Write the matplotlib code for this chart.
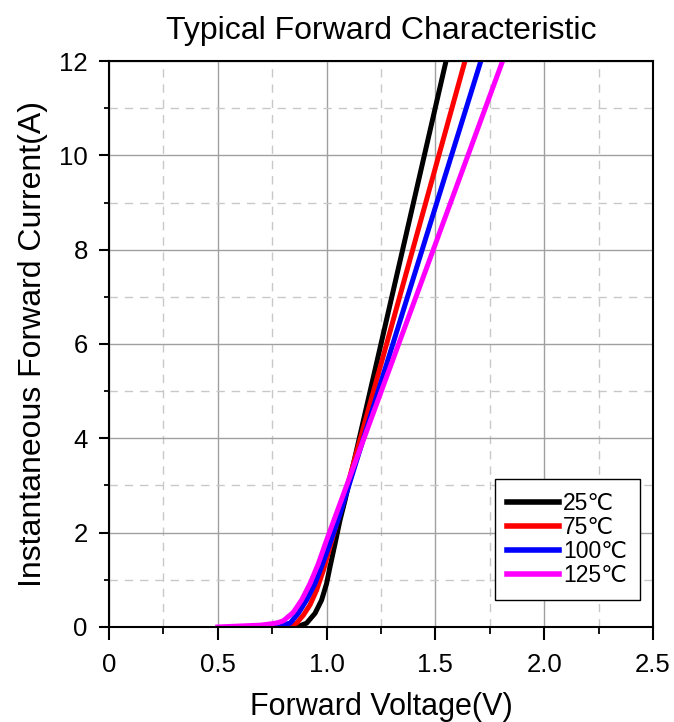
import matplotlib
matplotlib.use('Agg')
import matplotlib.pyplot as plt
from matplotlib.ticker import MultipleLocator

plt.rcParams['font.family'] = ['Liberation Sans', 'DejaVu Sans']

# Datos (tension V, corriente A)
v_25 = [0.75, 0.80, 0.85, 0.88, 0.908, 0.947, 0.977, 1.0, 1.016, 1.039, 1.062, 1.085, 1.549]
i_25 = [0.0, 0.005, 0.01, 0.03, 0.08, 0.29, 0.57, 0.92, 1.28, 1.77, 2.27, 2.69, 12.0]

v_75 = [0.72, 0.78, 0.82, 0.862, 0.893, 0.924, 0.954, 0.985, 1.016, 1.046, 1.077, 1.636]
i_75 = [0.0, 0.01, 0.03, 0.08, 0.25, 0.47, 0.78, 1.20, 1.70, 2.20, 2.69, 12.0]

v_100 = [0.68, 0.74, 0.79, 0.832, 0.870, 0.908, 0.947, 0.985, 1.023, 1.062, 1.709]
i_100 = [0.0, 0.02, 0.04, 0.08, 0.29, 0.57, 0.92, 1.38, 1.87, 2.40, 12.0]

v_125 = [0.5, 0.6, 0.7, 0.75, 0.775, 0.801, 0.847, 0.885, 0.924, 0.962, 1.0, 1.039, 1.809]
i_125 = [0.0, 0.02, 0.04, 0.07, 0.09, 0.13, 0.31, 0.57, 0.92, 1.34, 1.84, 2.33, 12.0]

etiquetas = ['25℃', '75℃', '100℃', '125℃']
colores = ['black', 'red', 'blue', 'magenta']

fig = plt.figure(figsize=(6.74, 7.22), dpi=100)
ax = fig.add_axes([0.1617, 0.1316, 0.8071, 0.7839])

series = [(v_25, i_25), (v_75, i_75), (v_100, i_100), (v_125, i_125)]
for (v, i), lab, col in zip(series, etiquetas, colores):
    ax.plot(v, i, color=col, lw=3.6, label=lab, solid_joinstyle='round')

ax.set_xlim(0, 2.5)
ax.set_ylim(0, 12)
ax.xaxis.set_minor_locator(MultipleLocator(0.25))
ax.yaxis.set_major_locator(MultipleLocator(2))
ax.yaxis.set_minor_locator(MultipleLocator(1))
ax.set_xticks([0, 0.5, 1.0, 1.5, 2.0, 2.5], ['0', '0.5', '1.0', '1.5', '2.0', '2.5'])

ax.grid(which='major', color='#a0a0a0', lw=1.0, ls='-')
ax.grid(which='minor', color='#c8c8c8', lw=1.0, ls=(0, (6, 5)))
ax.set_axisbelow(True)

ax.tick_params(axis='x', which='major', direction='out', length=9, width=1.5, pad=9.5, labelsize=18.5)
ax.tick_params(axis='x', which='minor', direction='out', length=4.8, width=1.3)
ax.tick_params(axis='y', which='major', direction='out', length=7.2, width=1.5, pad=8, labelsize=18.5)
ax.tick_params(axis='y', which='minor', direction='out', length=3.6, width=1.3)
for s in ax.spines.values():
    s.set_linewidth(1.5)

ax.set_title('Typical Forward Characteristic', fontsize=23, pad=16)
ax.set_xlabel('Forward Voltage(V)', fontsize=22, labelpad=11)
ax.set_ylabel('Instantaneous Forward Current(A)', fontsize=23, labelpad=8)

leg = ax.legend(loc='lower right', bbox_to_anchor=(0.976, 0.048), borderaxespad=0,
                fontsize=16.5, frameon=True, fancybox=False, edgecolor='black',
                framealpha=1, handlelength=2.25, handletextpad=0.2,
                labelspacing=0.05, borderpad=0.55)
leg.get_frame().set_linewidth(1.0)
for h in leg.get_lines():
    h.set_linewidth(4.0)

plt.savefig('out.png', dpi=100)
